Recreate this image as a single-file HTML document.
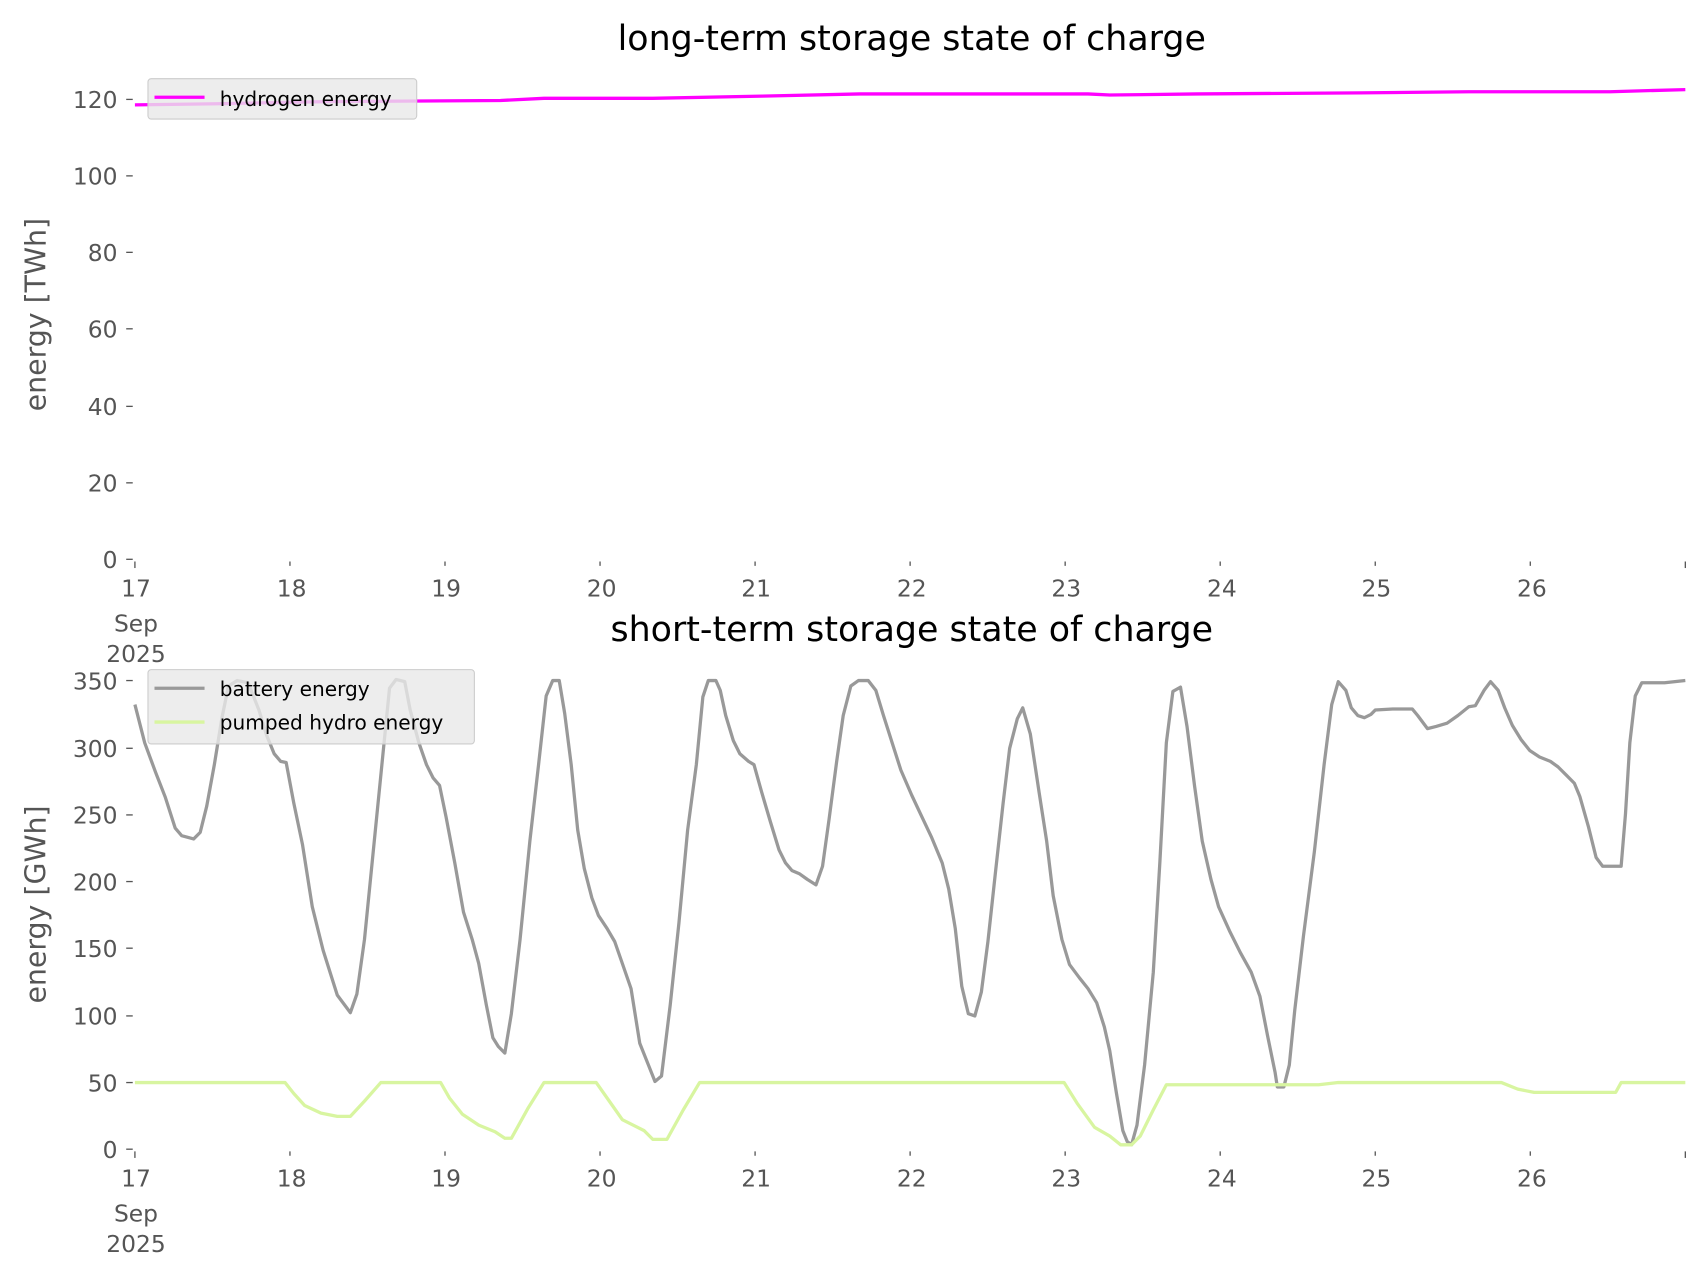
<!DOCTYPE html>
<html><head><meta charset="utf-8"><style>
html,body{margin:0;padding:0;background:#fff;}
svg{display:block;font-family:"DejaVu Sans","Liberation Sans",sans-serif;}
.t{fill:#555;font-size:21.5px;}
</style></head><body>
<svg width="1706" height="1277" viewBox="0 0 1568 1169" preserveAspectRatio="none" xmlns="http://www.w3.org/2000/svg">
<rect width="1568" height="1169" fill="#fff"/>
<!-- TOP -->
<text x="838" y="46" text-anchor="middle" font-size="32" fill="#000">long-term storage state of charge</text>
<text transform="translate(42,288) rotate(-90)" text-anchor="middle" font-size="26" fill="#555">energy [TWh]</text>
<g class="t" text-anchor="end">
<text x="108" y="520">0</text><text x="108" y="450">20</text><text x="108" y="380">40</text><text x="108" y="309">60</text><text x="108" y="239">80</text><text x="108" y="169">100</text><text x="108" y="99">120</text>
</g>
<g stroke="#555" stroke-width="1.2">
<line x1="116" y1="512" x2="122" y2="512"/><line x1="116" y1="442" x2="122" y2="442"/><line x1="116" y1="372" x2="122" y2="372"/><line x1="116" y1="301" x2="122" y2="301"/><line x1="116" y1="231" x2="122" y2="231"/><line x1="116" y1="161" x2="122" y2="161"/><line x1="116" y1="91" x2="122" y2="91"/>
<line x1="124" y1="514" x2="124" y2="520"/><line x1="266.5" y1="514" x2="266.5" y2="518"/><line x1="409" y1="514" x2="409" y2="518"/><line x1="551.5" y1="514" x2="551.5" y2="518"/><line x1="694" y1="514" x2="694" y2="518"/><line x1="836.5" y1="514" x2="836.5" y2="518"/><line x1="979" y1="514" x2="979" y2="518"/><line x1="1121.5" y1="514" x2="1121.5" y2="518"/><line x1="1264" y1="514" x2="1264" y2="518"/><line x1="1406.5" y1="514" x2="1406.5" y2="518"/><line x1="1549" y1="514" x2="1549" y2="520"/>
</g>
<g class="t" text-anchor="middle">
<text x="125" y="546">17</text><text x="125" y="578">Sep</text><text x="125" y="606">2025</text>
<text x="268" y="546">18</text><text x="410" y="546">19</text><text x="553" y="546">20</text><text x="695" y="546">21</text><text x="838" y="546">22</text><text x="980" y="546">23</text><text x="1123" y="546">24</text><text x="1265" y="546">25</text><text x="1408" y="546">26</text>
</g>
<polyline fill="none" stroke="#ff00ff" stroke-width="3" points="124,96 200,95 300,93 460,92 500,90 600,90 700,88 790,86 1000,86 1020,87 1100,86 1250,85 1350,84 1480,84 1549,82"/>
<rect x="136" y="72" width="247" height="37" rx="3" fill="#e8e8e8" fill-opacity="0.8" stroke="#ccc"/>
<line x1="142" y1="89" x2="188" y2="89" stroke="#ff00ff" stroke-width="3"/>
<text x="202" y="97" font-size="18.5" fill="#000">hydrogen energy</text>

<!-- BOTTOM -->
<text x="838" y="587" text-anchor="middle" font-size="32" fill="#000">short-term storage state of charge</text>
<text transform="translate(42,828) rotate(-90)" text-anchor="middle" font-size="26" fill="#555">energy [GWh]</text>
<g class="t" text-anchor="end">
<text x="108" y="1060">0</text><text x="108" y="999">50</text><text x="108" y="938">100</text><text x="108" y="876">150</text><text x="108" y="815">200</text><text x="108" y="754">250</text><text x="108" y="693">300</text><text x="108" y="631">350</text>
</g>
<g stroke="#555" stroke-width="1.2">
<line x1="116" y1="1052" x2="122" y2="1052"/><line x1="116" y1="991" x2="122" y2="991"/><line x1="116" y1="930" x2="122" y2="930"/><line x1="116" y1="868" x2="122" y2="868"/><line x1="116" y1="807" x2="122" y2="807"/><line x1="116" y1="746" x2="122" y2="746"/><line x1="116" y1="685" x2="122" y2="685"/><line x1="116" y1="623" x2="122" y2="623"/>
<line x1="124" y1="1054" x2="124" y2="1060"/><line x1="266.5" y1="1054" x2="266.5" y2="1058"/><line x1="409" y1="1054" x2="409" y2="1058"/><line x1="551.5" y1="1054" x2="551.5" y2="1058"/><line x1="694" y1="1054" x2="694" y2="1058"/><line x1="836.5" y1="1054" x2="836.5" y2="1058"/><line x1="979" y1="1054" x2="979" y2="1058"/><line x1="1121.5" y1="1054" x2="1121.5" y2="1058"/><line x1="1264" y1="1054" x2="1264" y2="1058"/><line x1="1406.5" y1="1054" x2="1406.5" y2="1058"/><line x1="1549" y1="1054" x2="1549" y2="1060"/>
</g>
<g class="t" text-anchor="middle">
<text x="125" y="1086">17</text><text x="125" y="1118">Sep</text><text x="125" y="1146">2025</text>
<text x="268" y="1086">18</text><text x="410" y="1086">19</text><text x="553" y="1086">20</text><text x="695" y="1086">21</text><text x="838" y="1086">22</text><text x="980" y="1086">23</text><text x="1123" y="1086">24</text><text x="1265" y="1086">25</text><text x="1408" y="1086">26</text>
</g>
<polyline fill="none" stroke="#999" stroke-width="3" stroke-linejoin="round" points="124,645 133,680 143,707 152,730 161,758 167,765 178,768 184,762 190,738 197,700 204,657 210,628 218,623 228,625 238,650 245,673 252,690 258,697 263,698 270,735 278,773 287,830 297,870 310,911 322,927 328,910 335,860 343,780 352,690 358,630 364,622 372,624 377,650 385,680 392,700 398,712 404,719 410,748 418,790 426,835 434,860 440,882 447,920 453,950 458,958 464,964 470,928 478,860 487,770 495,700 502,637 508,623 514,623 519,653 525,700 531,760 537,795 544,822 550,838 558,850 565,862 572,882 580,905 588,955 596,975 602,990 608,985 616,920 624,845 632,760 640,700 646,638 651,623 658,623 662,632 667,655 674,678 680,690 688,697 693,700 700,725 708,752 716,778 722,790 728,797 735,800 742,805 750,810 756,793 762,750 769,697 775,655 782,628 789,623 798,623 805,632 812,655 820,680 828,705 838,728 846,745 856,766 866,790 872,814 878,850 884,903 890,928 896,930 902,908 908,862 915,798 922,735 928,685 935,658 940,648 947,672 955,725 962,770 968,820 976,860 983,883 992,895 1000,905 1008,918 1015,940 1020,962 1026,1000 1032,1035 1036,1045 1040,1048 1045,1030 1052,975 1060,890 1066,790 1072,680 1078,633 1085,629 1091,665 1098,720 1105,770 1113,805 1120,830 1130,852 1140,872 1150,890 1158,912 1165,948 1172,982 1174,995 1180,995 1185,975 1190,925 1198,857 1208,780 1217,700 1224,645 1230,624 1237,632 1242,648 1248,655 1254,657 1260,654 1264,650 1280,649 1298,649 1303,655 1312,667 1320,665 1330,662 1340,655 1350,647 1356,646 1364,632 1370,624 1377,632 1383,648 1390,664 1398,677 1406,687 1415,693 1425,697 1432,702 1440,710 1447,717 1452,729 1460,757 1467,785 1473,793 1480,793 1490,793 1494,745 1498,680 1503,637 1509,625 1530,625 1549,623"/>
<polyline fill="none" stroke="#d8f5a0" stroke-width="3" stroke-linejoin="round" points="124,991 262,991 270,1001 280,1012 295,1019 310,1022 322,1022 335,1008 350,991 405,991 413,1005 425,1020 440,1030 455,1036 464,1042 470,1042 485,1015 500,991 548,991 560,1008 572,1025 592,1035 600,1043 613,1043 628,1016 643,991 978,991 990,1010 1006,1032 1020,1040 1030,1048 1040,1048 1048,1040 1060,1016 1072,993 1212,993 1230,991 1380,991 1395,997 1410,1000 1440,1000 1485,1000 1490,991 1549,991"/>
<rect x="136" y="613" width="300" height="68" rx="3" fill="#e8e8e8" fill-opacity="0.8" stroke="#ccc"/>
<line x1="142" y1="630" x2="188" y2="630" stroke="#999" stroke-width="3"/>
<text x="202" y="637" font-size="18.5" fill="#000">battery energy</text>
<line x1="142" y1="661" x2="188" y2="661" stroke="#d8f5a0" stroke-width="3"/>
<text x="202" y="668" font-size="18.5" fill="#000">pumped hydro energy</text>
</svg>
</body></html>
